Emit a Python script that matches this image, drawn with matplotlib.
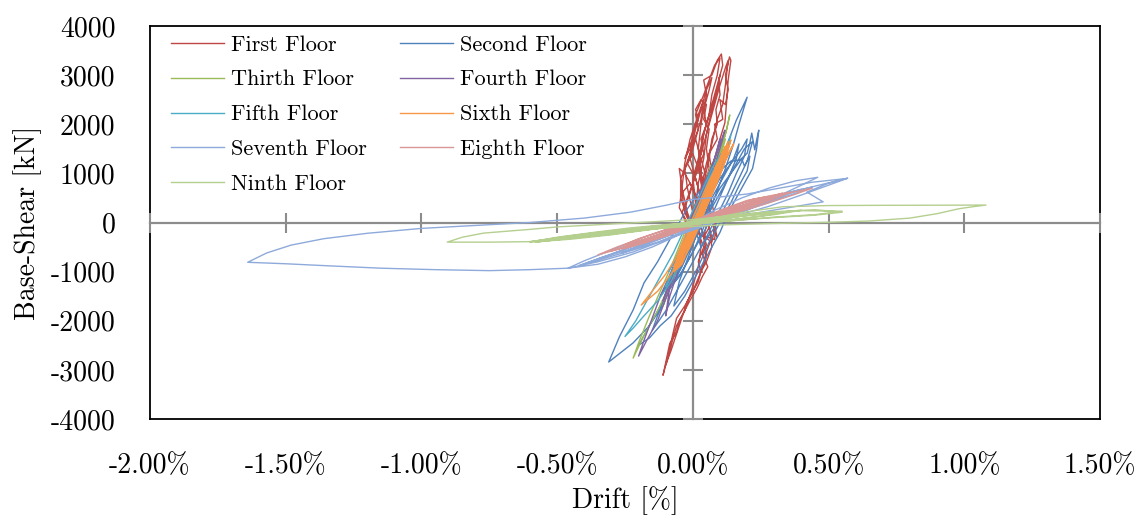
import matplotlib
matplotlib.use("Agg")
import matplotlib.pyplot as plt

plt.rcParams["font.family"] = "cmr10"
plt.rcParams["mathtext.fontset"] = "cm"
plt.rcParams["axes.formatter.use_mathtext"] = True

# ---- axis ticks -------------------------------------------------------------
drift_ticks = [-2.0, -1.5, -1.0, -0.5, 0.0, 0.5, 1.0, 1.5]
drift_labels = ["-2.00%", "-1.50%", "-1.00%", "-0.50%", "0.00%", "0.50%", "1.00%", "1.50%"]
shear_ticks = [-4000, -3000, -2000, -1000, 0, 1000, 2000, 3000, 4000]
shear_labels = ["-4000", "-3000", "-2000", "-1000", "0", "1000", "2000", "3000", "4000"]

# ---- hysteresis paths: (drift [%], base shear [kN]) ---------------------------
floor1 = [(0.00, 0), (0.02, 400), (-0.01, 800), (-0.04, 600), (-0.03, 200), (0.00, -100), (0.04, -300),
          (0.06, -100), (0.03, 300), (0.00, 700), (-0.03, 1000), (-0.05, 1100), (-0.04, 700), (-0.05, 300),
          (-0.02, 0), (0.03, -250), (0.08, -350), (0.085, -100), (0.06, 300), (0.04, 700), (0.02, 1100),
          (0.00, 1400), (-0.02, 1200), (-0.045, 900), (-0.045, 500), (-0.02, 100), (0.02, -200), (0.07, -400),
          (0.085, 0), (0.07, 400), (0.05, 900), (0.03, 1300), (0.01, 1700), (-0.01, 1600), (-0.03, 1300),
          (-0.01, 1500), (0.00, 1800), (0.02, 2100), (0.01, 2300), (0.03, 2500), (0.05, 2400), (0.04, 2100),
          (0.06, 1900), (0.05, 1500), (0.06, 1100), (0.04, 700), (0.06, 300), (0.08, -200), (0.09, -300),
          (0.07, 100), (0.05, 600), (0.03, 1000), (0.02, 1500), (0.03, 2000), (0.05, 2600), (0.04, 2900),
          (0.07, 3000), (0.09, 3300), (0.105, 3430), (0.11, 3200), (0.095, 2900), (0.10, 2600), (0.085, 2300),
          (0.09, 2000), (0.07, 1700), (0.06, 1300), (0.04, 800), (0.05, 400), (0.03, -100), (0.05, -450),
          (0.035, -650), (0.055, -900), (0.035, -1100), (0.015, -1340), (-0.01, -1580), (-0.05, -2000),
          (-0.06, -2230), (-0.085, -2460), (-0.11, -3110), (-0.09, -2700), (-0.075, -2300), (-0.06, -1950),
          (-0.03, -1700), (0.00, -1400), (0.03, -1000), (0.05, -700), (0.04, -300), (0.06, 200), (0.05, 600),
          (0.07, 1000), (0.06, 1400), (0.09, 1700), (0.08, 2000), (0.11, 2100), (0.10, 2500), (0.12, 2400),
          (0.13, 2700), (0.12, 3000), (0.135, 3370), (0.14, 3300), (0.13, 2900), (0.125, 2500), (0.118, 2030),
          (0.10, 1700), (0.08, 1300), (0.065, 1000), (0.04, 500), (0.03, 0), (0.01, -300), (-0.01, -600),
          (-0.02, -400), (0.00, 200), (-0.02, 700), (-0.03, 1100), (-0.01, 1400), (0.01, 1900), (0.03, 2300),
          (0.05, 2700), (0.07, 2950), (0.06, 2700), (0.04, 2300), (0.05, 2000), (0.03, 1700), (0.04, 1400),
          (0.02, 1100), (0.00, 800), (-0.02, 500), (-0.04, 200), (-0.02, -100), (0.01, 400), (0.00, 900),
          (0.02, 1300), (0.04, 1800), (0.06, 2200), (0.08, 2600), (0.10, 3000), (0.09, 2700), (0.07, 2300),
          (0.05, 1800), (0.04, 1300), (0.02, 800), (0.01, 300), (0.00, 0), (0.03, 500), (0.01, 900),
          (-0.02, 1200), (0.00, 1600), (0.02, 1900), (0.01, 2200), (0.04, 2600), (0.06, 2900), (0.08, 3200),
          (0.10, 3350), (0.09, 3000), (0.07, 2600), (0.06, 2200), (0.04, 1800), (0.03, 1400), (0.01, 1000),
          (-0.01, 600), (-0.03, 300), (-0.01, 0), (0.02, -200), (0.04, -500), (0.02, -800), (0.03, -1000),
          (0.05, -800), (0.07, -500), (0.06, -100), (0.05, 300), (0.03, 800), (0.02, 1200), (0.04, 1600),
          (0.06, 2000), (0.08, 2400), (0.10, 2800), (0.12, 3150), (0.13, 3300), (0.12, 2800), (0.11, 2400),
          (0.09, 2100), (0.07, 1600), (0.05, 1200), (0.03, 700), (0.02, 300), (0.00, -100), (-0.02, 200),
          (-0.04, 700), (-0.03, 1200), (-0.01, 1700), (0.02, 2200), (0.04, 2500), (0.03, 2100), (0.01, 1700),
          (-0.01, 1300), (0.01, 900), (0.03, 500), (0.05, 100), (0.07, -300), (0.05, -600), (0.02, -1200),
          (-0.02, -1600), (-0.05, -2100), (-0.08, -2600), (-0.10, -2900), (-0.08, -2500), (-0.06, -2100),
          (-0.03, -1800), (0.00, -1300), (0.02, -900), (0.03, -500), (0.02, 0)]

floor2 = [(0.00, 0), (0.04, 400), (0.08, 900), (0.06, 700), (0.02, 200), (-0.02, -300), (-0.06, -800),
          (-0.09, -1200), (-0.07, -1000), (-0.03, -500), (0.01, 100), (0.05, 600), (0.09, 1000), (0.12, 1300),
          (0.10, 1000), (0.07, 600), (0.03, 0), (-0.02, -600), (-0.07, -1100), (-0.12, -1500), (-0.10, -1300),
          (-0.06, -800), (-0.02, -200), (0.03, 500), (0.08, 1100), (0.12, 1500), (0.16, 2080), (0.20, 2550),
          (0.17, 2000), (0.15, 1600), (0.12, 1100), (0.08, 500), (0.04, -100), (0.00, -600), (-0.05, -1100),
          (-0.09, -1370), (-0.114, -1720), (-0.165, -2130), (-0.22, -2450), (-0.31, -2840), (-0.27, -2320),
          (-0.22, -1780), (-0.18, -1230), (-0.13, -800), (-0.08, -300), (-0.03, 200), (0.02, 600), (0.07, 900),
          (0.11, 1100), (0.14, 1250), (0.173, 1270), (0.20, 1410), (0.21, 1620), (0.217, 1820), (0.228, 1480),
          (0.235, 1680), (0.243, 1880), (0.235, 1500), (0.22, 1100), (0.19, 800), (0.16, 500), (0.13, 200),
          (0.10, -200), (0.06, -600), (0.02, -1000), (-0.03, -1500), (-0.08, -1900), (-0.12, -2100),
          (-0.16, -2350), (-0.20, -2500), (-0.17, -2200), (-0.13, -1800), (-0.10, -1500), (-0.06, -1100),
          (-0.02, -600), (0.02, -100), (0.06, 300), (0.10, 700), (0.14, 1000), (0.18, 1300), (0.19, 1150),
          (0.21, 1350), (0.20, 1050), (0.17, 750), (0.14, 400), (0.10, 0), (0.06, -400), (0.02, -900),
          (-0.03, -1400), (-0.07, -1700), (-0.05, -1200), (-0.01, -600), (0.03, 0), (0.07, 500), (0.11, 900),
          (0.15, 1300), (0.17, 1600), (0.16, 1300), (0.13, 900), (0.09, 400), (0.05, -100), (0.01, -500),
          (-0.04, -1000), (-0.08, -1300), (-0.06, -900), (-0.02, -300), (0.02, 200), (0.06, 700), (0.10, 1200),
          (0.13, 1600), (0.11, 1300), (0.07, 800), (0.04, 300), (0.00, 0), (0.05, 400), (0.10, 900),
          (0.14, 1200), (0.18, 1500), (0.20, 1700), (0.19, 1350), (0.16, 1000), (0.13, 600), (0.09, 150),
          (0.05, -300), (0.00, -800), (-0.05, -1300), (-0.10, -1800), (-0.15, -2200), (-0.13, -1900),
          (-0.09, -1400), (-0.04, -900), (0.00, -400), (0.05, 100), (0.10, 600), (0.15, 1100), (0.19, 1500),
          (0.22, 1650), (0.20, 1250), (0.17, 900), (0.13, 450), (0.08, -100), (0.03, -500), (0.00, 0)]

floor3 = [(0.00, 0), (0.04, 600), (0.07, 1200), (0.05, 900), (0.01, 200), (-0.03, -400), (-0.07, -1000),
          (-0.10, -1500), (-0.08, -1200), (-0.04, -600), (0.00, 0), (0.05, 700), (0.09, 1300), (0.12, 1800),
          (0.136, 2190), (0.125, 1900), (0.10, 1400), (0.06, 800), (0.02, 200), (-0.03, -500), (-0.08, -1200),
          (-0.13, -1800), (-0.18, -2300), (-0.22, -2760), (-0.20, -2450), (-0.16, -1900), (-0.12, -1400),
          (-0.08, -900), (-0.03, -200), (0.02, 400), (0.06, 1000), (0.10, 1500), (0.12, 1700), (0.10, 1300),
          (0.07, 800), (0.03, 200), (-0.02, -500), (-0.07, -1100), (-0.11, -1700), (-0.09, -1400),
          (-0.05, -800), (0.00, -100), (0.04, 500), (0.08, 1100), (0.06, 800), (0.02, 200), (-0.02, -400),
          (-0.06, -900), (-0.04, -600), (0.00, 0)]

floor4 = [(0.00, 0), (0.03, 500), (0.06, 1000), (0.04, 800), (0.00, 200), (-0.04, -500), (-0.08, -1100),
          (-0.11, -1600), (-0.09, -1300), (-0.05, -700), (0.00, 0), (0.04, 700), (0.08, 1300), (0.10, 1600),
          (0.118, 1880), (0.105, 1600), (0.08, 1150), (0.05, 600), (0.01, 0), (-0.04, -700), (-0.09, -1400),
          (-0.13, -2000), (-0.17, -2400), (-0.20, -2720), (-0.18, -2400), (-0.15, -1950), (-0.12, -1500),
          (-0.08, -1000), (-0.03, -300), (0.02, 400), (0.06, 1000), (0.09, 1450), (0.10, 1700), (0.085, 1400),
          (0.06, 900), (0.02, 300), (-0.03, -400), (-0.08, -1100), (-0.10, -1900), (-0.085, -1500),
          (-0.05, -900), (0.00, -200), (0.04, 500), (0.07, 1100), (0.05, 800), (0.01, 200), (-0.03, -500),
          (-0.06, -1000), (-0.04, -700), (0.00, 0)]

floor5 = [(0.00, 0), (0.04, 600), (0.08, 1100), (0.06, 900), (0.02, 300), (-0.03, -400), (-0.07, -900),
          (-0.10, -1300), (-0.08, -1100), (-0.04, -500), (0.01, 100), (0.05, 700), (0.09, 1200), (0.12, 1500),
          (0.14, 1780), (0.13, 1550), (0.10, 1100), (0.06, 500), (0.02, -100), (-0.03, -700), (-0.08, -1200),
          (-0.13, -1600), (-0.18, -1900), (-0.22, -2150), (-0.25, -2320), (-0.21, -2000), (-0.17, -1600),
          (-0.12, -1100), (-0.07, -600), (-0.02, 0), (0.03, 600), (0.07, 1100), (0.11, 1450), (0.09, 1150),
          (0.05, 600), (0.00, 0), (-0.05, -600), (-0.09, -1000), (-0.06, -700), (-0.02, -200), (0.02, 300),
          (0.06, 800), (0.04, 500), (0.00, 0)]

floor6 = [(0.00, 0), (0.06, 600), (0.04, 500), (0.10, 1200), (0.08, 1100), (0.12, 1500), (0.10, 1300),
          (0.06, 700), (0.02, 100), (-0.02, -400), (-0.05, -800), (-0.07, -1000), (-0.04, -850), (0.00, -300),
          (0.04, 200), (0.08, 700), (0.11, 1100), (0.14, 1680), (0.13, 1500), (0.09, 1000), (0.06, 500),
          (0.03, 0), (-0.01, -500), (-0.05, -900), (-0.03, -600), (0.01, -100), (0.05, 400), (0.09, 900),
          (0.13, 1400), (0.15, 1600), (0.12, 1250), (0.08, 700), (0.04, 200), (0.00, -300), (-0.04, -700),
          (-0.08, -1050), (-0.13, -1400), (-0.19, -1680), (-0.15, -1400), (-0.10, -1050), (-0.06, -700),
          (-0.02, -150), (0.02, 350), (0.06, 850), (0.10, 1300), (0.12, 1550), (0.09, 1150), (0.05, 650),
          (0.01, 100), (-0.03, -400), (-0.07, -900), (-0.05, -700), (-0.01, -200), (0.03, 300), (0.07, 800),
          (0.11, 1350), (0.09, 1050), (0.05, 500), (0.01, 0), (-0.02, -350), (-0.06, -800), (-0.04, -500),
          (0.00, 0), (0.04, 450), (0.08, 950), (0.12, 1450), (0.10, 1200), (0.07, 750), (0.03, 250),
          (-0.01, -250), (-0.05, -750), (-0.02, -400), (0.02, 100), (0.06, 650), (0.10, 1150), (0.08, 900),
          (0.04, 400), (0.00, -100), (0.02, 200), (0.06, 750), (0.09, 1150), (0.13, 1550), (0.11, 1350),
          (0.08, 900), (0.04, 350), (0.00, -150), (-0.04, -650), (-0.07, -950), (-0.05, -800), (-0.01, -300),
          (0.03, 250), (0.07, 850), (0.10, 1250), (0.13, 1650), (0.12, 1400), (0.09, 950), (0.05, 450),
          (0.01, -50), (-0.03, -550), (-0.06, -950), (-0.04, -700), (0.00, -200), (0.04, 350), (0.08, 1000),
          (0.11, 1450), (0.09, 1100), (0.06, 650), (0.02, 150), (-0.02, -350), (-0.05, -700), (-0.03, -450),
          (0.01, 50), (0.05, 550), (0.09, 1050), (0.07, 800), (0.03, 300), (0.00, 0)]

floor7 = [(0.00, 0), (0.08, 250), (0.18, 500), (0.28, 700), (0.38, 850), (0.46, 920), (0.40, 760),
          (0.30, 500), (0.20, 250), (0.08, 0), (-0.05, -250), (-0.15, -500), (-0.25, -700), (-0.35, -850),
          (-0.46, -930), (-0.40, -780), (-0.30, -560), (-0.18, -300), (-0.05, -50), (0.06, 150), (0.18, 350),
          (0.30, 520), (0.42, 700), (0.48, 780), (0.57, 900), (0.50, 760), (0.40, 560), (0.28, 330),
          (0.15, 120), (0.02, -100), (-0.10, -350), (-0.22, -600), (-0.35, -800), (-0.46, -930), (-0.60, -960),
          (-0.75, -980), (-0.95, -960), (-1.15, -930), (-1.35, -880), (-1.50, -840), (-1.64, -810),
          (-1.57, -620), (-1.48, -460), (-1.36, -330), (-1.20, -220), (-1.00, -120), (-0.80, -60), (-0.60, 0),
          (-0.40, 90), (-0.23, 210), (-0.10, 350), (0.00, 470), (0.10, 520), (0.20, 580), (0.32, 700),
          (0.44, 820), (0.54, 880), (0.57, 900), (0.50, 800), (0.42, 620), (0.48, 420), (0.35, 300),
          (0.22, 180), (0.10, 50), (-0.02, -150), (-0.12, -380), (-0.22, -560), (-0.32, -720), (-0.38, -820),
          (-0.30, -650), (-0.20, -430), (-0.10, -200), (0.00, 0), (0.12, 200), (0.25, 420), (0.36, 620),
          (0.44, 720), (0.36, 560), (0.25, 350), (0.12, 120), (0.00, -80), (-0.12, -330), (-0.24, -560),
          (-0.33, -700), (-0.42, -880), (-0.36, -760), (-0.26, -560), (-0.14, -330), (-0.02, -80),
          (0.10, 160), (0.22, 380), (0.32, 560), (0.40, 680), (0.30, 470), (0.18, 250), (0.06, 50),
          (-0.06, -200), (-0.16, -420), (-0.26, -620), (-0.20, -480), (-0.08, -230), (0.04, 20),
          (0.16, 260), (0.28, 480), (0.20, 330), (0.08, 100), (0.00, 0)]

floor8 = [(0.00, 0), (0.10, 200), (0.20, 380), (0.25, 420), (0.18, 250), (0.08, 50), (-0.05, -150),
          (-0.15, -300), (-0.25, -450), (-0.20, -330), (-0.10, -150), (0.00, 50), (0.12, 250), (0.22, 400),
          (0.33, 600), (0.28, 470), (0.18, 280), (0.05, 50), (-0.08, -200), (-0.20, -420), (-0.30, -580),
          (-0.35, -660), (-0.28, -500), (-0.18, -300), (-0.05, -50), (0.08, 170), (0.20, 380), (0.32, 560),
          (0.44, 700), (0.38, 580), (0.28, 400), (0.16, 200), (0.04, 0), (-0.08, -220), (-0.18, -420),
          (-0.26, -540), (-0.18, -380), (-0.08, -180), (0.02, 20), (0.12, 220), (0.24, 430), (0.18, 300),
          (0.06, 100), (0.00, 0), (0.10, 250), (0.20, 450), (0.30, 560), (0.36, 620), (0.30, 480),
          (0.20, 300), (0.10, 120), (0.00, -80), (-0.10, -280), (-0.20, -440), (-0.25, -500), (-0.18, -350),
          (-0.08, -150), (0.02, 60), (0.12, 270), (0.22, 470), (0.28, 530), (0.20, 360), (0.10, 170),
          (-0.02, -60), (-0.12, -280), (-0.22, -470), (-0.30, -580), (-0.22, -420), (-0.12, -230),
          (-0.02, -20), (0.08, 190), (0.18, 390), (0.26, 500), (0.16, 300), (0.06, 100), (0.00, 0)]

floor9 = [(0.00, 0), (0.10, 100), (0.20, 180), (0.30, 230), (0.20, 150), (0.10, 60), (0.00, -30),
          (-0.10, -100), (-0.20, -170), (-0.30, -230), (-0.20, -150), (-0.10, -70), (0.00, 20), (0.15, 130),
          (0.30, 220), (0.45, 260), (0.55, 210), (0.45, 150), (0.30, 100), (0.15, 40), (0.00, -40),
          (-0.15, -140), (-0.30, -250), (-0.45, -340), (-0.60, -400), (-0.50, -300), (-0.35, -190),
          (-0.23, -110), (-0.05, -20), (0.10, 120), (0.20, 220), (0.33, 320), (0.50, 345), (0.70, 350),
          (0.90, 352), (1.08, 355), (1.03, 320), (0.98, 280), (0.90, 180), (0.80, 90), (0.65, 30), (0.50, 5),
          (0.30, -20), (0.10, -50), (-0.10, -110), (-0.30, -210), (-0.50, -320), (-0.60, -390), (-0.75, -400),
          (-0.905, -400), (-0.85, -300), (-0.77, -215), (-0.60, -140), (-0.50, -90), (-0.23, -10), (0.00, 60),
          (0.20, 170), (0.40, 240), (0.55, 230), (0.45, 160), (0.30, 110), (0.15, 40), (0.00, -20),
          (-0.15, -120), (-0.30, -230), (-0.45, -320), (-0.60, -390), (-0.45, -270), (-0.30, -170),
          (-0.15, -80), (0.00, 0), (-0.20, -160), (-0.40, -290), (-0.58, -400), (-0.40, -280), (-0.20, -120),
          (0.00, 0), (0.15, 110), (0.30, 200), (0.40, 250), (0.30, 160), (0.15, 60), (0.00, -40),
          (-0.15, -130), (-0.30, -240), (-0.50, -350), (-0.40, -250), (-0.25, -150), (-0.10, -60),
          (0.05, 40), (0.20, 140), (0.35, 220), (0.25, 130), (0.10, 30), (0.00, -10), (-0.12, -90),
          (-0.25, -180), (-0.40, -290), (-0.30, -200), (-0.15, -90), (0.00, 0)]

floor_names = ["First Floor", "Second Floor", "Thirth Floor", "Fourth Floor", "Fifth Floor",
               "Sixth Floor", "Seventh Floor", "Eighth Floor", "Ninth Floor"]
floor_colors = ["#be4643", "#4f81bd", "#9bbb59", "#8064a2", "#4bacc6",
                "#f79646", "#8eaadb", "#d99694", "#b5cf8f"]
floors = [floor1, floor2, floor3, floor4, floor5, floor6, floor7, floor8, floor9]

# ---- figure -------------------------------------------------------------------
fig = plt.figure(figsize=(11.42, 5.18), dpi=100)
box = [150 / 1142, 1 - 419 / 518, 950 / 1142, 393 / 518]

# frame and tick labels
ax_lab = fig.add_axes(box)
ax_lab.set_xlim(-2.0, 1.5)
ax_lab.set_ylim(-4000, 4000)
ax_lab.set_xticks(drift_ticks)
ax_lab.set_xticklabels(drift_labels)
ax_lab.set_yticks(shear_ticks)
ax_lab.set_yticklabels(shear_labels)
ax_lab.tick_params(axis="x", length=0, pad=24, labelsize=20)
ax_lab.tick_params(axis="y", length=0, pad=25, labelsize=20)
for sp in ax_lab.spines.values():
    sp.set_color("black")
    sp.set_linewidth(1.3)
ax_lab.set_xlabel("Drift [%]", fontsize=20, labelpad=5.5)
ax_lab.set_ylabel("Base-Shear [kN]", fontsize=20, labelpad=6)

# data with centred grey axes
ax = fig.add_axes(box)
ax.patch.set_visible(False)
ax.set_xlim(-2.0, 1.5)
ax.set_ylim(-4000, 4000)
ax.set_axisbelow(True)
ax.spines["left"].set_position(("data", 0))
ax.spines["bottom"].set_position(("data", 0))
ax.spines["top"].set_visible(False)
ax.spines["right"].set_visible(False)
for name in ("left", "bottom"):
    ax.spines[name].set_color("#8c8c8c")
    ax.spines[name].set_linewidth(1.6)
    ax.spines[name].set_zorder(0.5)
ax.set_xticks(drift_ticks)
ax.set_yticks(shear_ticks)
ax.tick_params(direction="inout", length=14, width=1.5, color="#8c8c8c",
               labelbottom=False, labelleft=False)

lines = []
for pts, c, n in zip(floors, floor_colors, floor_names):
    d = [p[0] for p in pts]
    s = [p[1] for p in pts]
    ln, = ax.plot(d, s, color=c, lw=1.0, label=n, zorder=2)
    lines.append(ln)

order = [0, 2, 4, 6, 8, 1, 3, 5, 7]
ax.legend([lines[i] for i in order], [floor_names[i] for i in order],
          ncol=2, loc="upper left", bbox_to_anchor=(0.022, 0.977), frameon=False,
          fontsize=16, handlelength=2.4, handletextpad=0.3, columnspacing=1.5,
          labelspacing=0.69, borderpad=0, borderaxespad=0)

fig.savefig("out.png", dpi=100)
